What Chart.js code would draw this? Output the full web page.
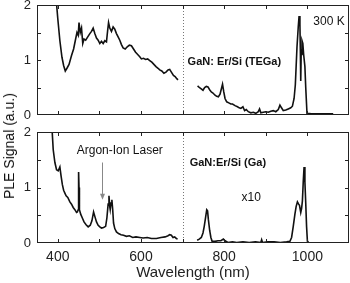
<!DOCTYPE html>
<html>
<head>
<meta charset="utf-8">
<script src="https://cdn.jsdelivr.net/npm/chart.js@4.4.1/dist/chart.umd.min.js"></script>
<style>
  html, body { margin: 0; padding: 0; background: #fff; }
  #wrap { position: relative; width: 350px; height: 283px; overflow: hidden; font-family: "Liberation Sans", Arial, sans-serif; }
  #topChart { position: absolute; left: 0; top: 0; }
  #botChart { position: absolute; left: 0; top: 125px; }
  #yLabel {
    position: absolute; left: 9px; top: 146px; white-space: nowrap;
    font-size: 14px; color: #111;
    transform: translate(-50%, -50%) rotate(-90deg);
  }
</style>
</head>
<body>
<div id="wrap">
  <canvas id="topChart" width="350" height="120"></canvas>
  <canvas id="botChart" width="350" height="158"></canvas>
  <div id="yLabel">PLE Signal (a.u.)</div>
</div>
<script>
/*************************************************
 * 1. Data
 *************************************************/
// top panel: GaN:Er/Si (TEGa), 300 K
const tegaVisWl = [395, 400, 405, 410, 414, 418, 422, 427, 433, 438, 442, 446, 449, 451, 454, 457, 460, 463, 467, 472, 477, 481, 485, 489, 493, 497, 501, 505, 509, 513, 517, 520, 522, 525, 529, 533, 537, 541, 545, 549, 553, 557, 562, 567, 572, 577, 582, 587, 592, 597, 601, 606, 611, 616, 621, 626, 631, 636, 641, 645, 650, 655, 660, 665, 669, 673, 678, 682, 686, 689];
const tegaVisSig = [2.2, 1.75, 1.35, 1.05, 0.9, 0.8, 0.85, 0.92, 1.08, 1.2, 1.35, 1.5, 1.45, 1.68, 1.5, 1.58, 1.3, 1.38, 1.36, 1.42, 1.48, 1.52, 1.58, 1.48, 1.4, 1.36, 1.3, 1.34, 1.3, 1.35, 1.33, 1.55, 1.68, 1.58, 1.52, 1.6, 1.56, 1.48, 1.42, 1.36, 1.28, 1.22, 1.2, 1.24, 1.27, 1.26, 1.2, 1.14, 1.1, 1.06, 1.02, 1.03, 1.01, 1.02, 0.99, 0.96, 0.92, 0.88, 0.85, 0.82, 0.8, 0.76, 0.78, 0.82, 0.83, 0.78, 0.72, 0.7, 0.66, 0.64];
const tegaIrWl = [736, 740, 744, 749, 753, 757, 761, 765, 769, 773, 778, 782, 786, 790, 794, 796, 799, 802, 806, 811, 816, 820, 826, 832, 836, 840, 845, 849, 853, 858, 864, 870, 876, 882, 885, 888, 894, 900, 906, 912, 918, 924, 930, 934, 937, 942, 948, 954, 960, 964, 968, 971, 975, 978, 980, 982, 983, 984, 985, 987, 989, 991, 994, 996, 999, 1010, 1030, 1062];
const tegaIrSig = [0.53, 0.5, 0.48, 0.45, 0.5, 0.52, 0.51, 0.46, 0.42, 0.4, 0.36, 0.34, 0.33, 0.38, 0.5, 0.56, 0.42, 0.3, 0.24, 0.22, 0.2, 0.2, 0.17, 0.15, 0.13, 0.12, 0.15, 0.08, 0.1, 0.06, 0.04, 0.05, 0.03, 0.06, 0.11, 0.04, 0.05, 0.06, 0.05, 0.07, 0.08, 0.06, 0.1, 0.18, 0.14, 0.08, 0.09, 0.11, 0.13, 0.16, 0.3, 0.55, 1.24, 1.6, 1.8, 1.65, 1.2, 0.62, 1.1, 1.35, 1.3, 1.1, 0.88, 0.5, 0.03, 0.02, 0.02, 0.02];

// bottom panel: GaN:Er/Si (Ga)
const gaVisWl = [385, 389, 393, 397, 401, 405, 408, 411, 414, 417, 420, 424, 429, 433, 437, 441, 445, 447, 449, 450, 451, 452, 455, 459, 463, 468, 473, 478, 482, 486, 489, 493, 497, 501, 505, 510, 515, 518, 521, 523, 525, 526, 528, 530, 532, 534, 537, 541, 546, 552, 558, 565, 572, 580, 588, 597, 605, 615, 625, 637, 648, 658, 665, 669, 673, 677, 681, 685, 688];
const gaVisSig = [2.2, 1.68, 1.45, 1.32, 1.3, 1.37, 1.2, 1.05, 0.95, 0.9, 0.85, 0.82, 0.74, 0.7, 0.64, 0.6, 0.55, 0.56, 0.6, 1.28, 1.0, 0.6, 0.52, 0.45, 0.38, 0.33, 0.29, 0.32, 0.4, 0.56, 0.48, 0.38, 0.32, 0.29, 0.27, 0.28, 0.3, 0.45, 0.7, 0.85, 0.65, 0.6, 0.72, 0.78, 0.6, 0.36, 0.26, 0.2, 0.17, 0.15, 0.14, 0.12, 0.13, 0.1, 0.11, 0.1, 0.09, 0.1, 0.08, 0.08, 0.1, 0.11, 0.13, 0.15, 0.14, 0.1, 0.11, 0.08, 0.07];
const gaIrWl = [735, 740, 745, 749, 752, 755, 758, 760, 762, 765, 768, 771, 778, 785, 792, 798, 802, 809, 820, 830, 845, 860, 875, 888, 890, 892, 905, 920, 935, 950, 958, 962, 966, 970, 973, 976, 979, 981, 984, 986, 988, 990, 992, 994, 996, 998, 1000, 1003];
const gaIrSig = [0.05, 0.07, 0.1, 0.18, 0.3, 0.45, 0.6, 0.58, 0.42, 0.23, 0.1, 0.03, 0.03, 0.04, 0.04, 0.07, 0.04, 0.01, 0.02, 0.01, 0.02, 0.01, 0.02, 0.01, 0.06, 0.01, 0.02, 0.02, 0.01, 0.02, 0.03, 0.1, 0.3, 0.52, 0.66, 0.74, 0.7, 0.68, 0.55, 0.62, 0.76, 1.1, 1.37, 1.1, 0.72, 0.3, 0.03, 0.02];

const xTickVals = [400, 500, 600, 700, 800, 900, 1000];
const xTickLabels = [400, 600, 800, 1000];
const yTickVals = [0, 0.5, 1, 1.5, 2];
const yTickLabels = [0, 1, 2];
const splitWl = 700;

const FONT = '"Liberation Sans", Arial, sans-serif';

/*************************************************
 * 2. Helpers
 *************************************************/
function toPoints(wl, sig) {
    return wl.map((w, i) => ({ x: w, y: sig[i] }));
}

function lineSet(wl, sig) {
    return {
        data: toPoints(wl, sig),
        borderColor: "#111",
        borderWidth: 1.6,
        pointRadius: 0,
        tension: 0,
        fill: false
    };
}

// frame, inward ticks and dotted split line
const framePlugin = {
    id: "frame",
    afterDatasetsDraw(chart) {
        const { ctx, chartArea: a, scales: { x, y } } = chart;
        ctx.save();
        ctx.lineWidth = 1;

        // dotted line at 700 nm
        const xs = Math.round(x.getPixelForValue(splitWl)) + 0.5;
        ctx.setLineDash([1, 2]);
        ctx.strokeStyle = "#777";
        ctx.beginPath();
        ctx.moveTo(xs, a.top);
        ctx.lineTo(xs, a.bottom);
        ctx.stroke();
        ctx.setLineDash([]);

        ctx.strokeStyle = "#222";
        ctx.strokeRect(a.left + 0.5, a.top + 0.5, a.right - a.left - 1, a.bottom - a.top - 1);

        const len = 4;
        ctx.beginPath();
        x.ticks.forEach(t => {
            const px = Math.round(x.getPixelForValue(t.value)) + 0.5;
            ctx.moveTo(px, a.bottom); ctx.lineTo(px, a.bottom - len);
            ctx.moveTo(px, a.top); ctx.lineTo(px, a.top + len);
        });
        y.ticks.forEach(t => {
            const py = Math.round(y.getPixelForValue(t.value)) + 0.5;
            if (py <= a.top + 1 || py >= a.bottom - 1) return;
            ctx.moveTo(a.left, py); ctx.lineTo(a.left + len, py);
            ctx.moveTo(a.right, py); ctx.lineTo(a.right - len, py);
        });
        ctx.stroke();
        ctx.restore();
    }
};

function noteText(chart, txt, wl, val, font, align) {
    const { ctx, scales: { x, y } } = chart;
    ctx.save();
    ctx.font = font;
    ctx.fillStyle = "#111";
    ctx.textAlign = align;
    ctx.textBaseline = "middle";
    ctx.fillText(txt, x.getPixelForValue(wl), y.getPixelForValue(val));
    ctx.restore();
}

function baseOptions(showX) {
    return {
        responsive: false,
        devicePixelRatio: 1,
        animation: false,
        layout: { padding: { top: showX ? 7 : 5, right: 1, bottom: 0, left: 0 } },
        plugins: { legend: { display: false }, tooltip: { enabled: false } },
        scales: {
            x: {
                type: "linear",
                min: 350, max: 1100,
                grid: { display: false, drawTicks: false },
                border: { display: false },
                afterBuildTicks: s => { s.ticks = xTickVals.map(v => ({ value: v })); },
                afterFit: s => {
                    s.height = showX ? 40 : 5;
                    s.paddingLeft = 0;
                    s.paddingRight = 0;
                },
                ticks: {
                    display: showX,
                    autoSkip: false,
                    maxRotation: 0,
                    padding: 6,
                    color: "#222",
                    font: { family: FONT, size: 14 },
                    callback: v => xTickLabels.includes(v) ? v : ""
                },
                title: {
                    display: showX,
                    text: "Wavelength (nm)",
                    color: "#222",
                    font: { family: FONT, size: 15 },
                    padding: { top: 0, bottom: 1 }
                }
            },
            y: {
                min: 0, max: 2,
                grid: { display: false, drawTicks: false },
                border: { display: false },
                afterBuildTicks: s => { s.ticks = yTickVals.map(v => ({ value: v })); },
                afterFit: s => {
                    s.width = 37;
                    s.paddingTop = 0;
                    s.paddingBottom = 0;
                },
                ticks: {
                    autoSkip: false,
                    padding: 6,
                    color: "#222",
                    font: { family: FONT, size: 13 },
                    callback: v => yTickLabels.includes(v) ? v : ""
                }
            }
        }
    };
}

/*************************************************
 * 3. Charts
 *************************************************/
new Chart(document.getElementById("topChart"), {
    type: "line",
    data: { datasets: [lineSet(tegaVisWl, tegaVisSig), lineSet(tegaIrWl, tegaIrSig)] },
    options: baseOptions(false),
    plugins: [framePlugin, {
        id: "topNotes",
        afterDraw(chart) {
            noteText(chart, "300 K", 1052, 1.7, `12px ${FONT}`, "center");
            noteText(chart, "GaN: Er/Si (TEGa)", 712, 0.96, `bold 11px ${FONT}`, "left");
        }
    }]
});

new Chart(document.getElementById("botChart"), {
    type: "line",
    data: { datasets: [lineSet(gaVisWl, gaVisSig), lineSet(gaIrWl, gaIrSig)] },
    options: baseOptions(true),
    plugins: [framePlugin, {
        id: "botNotes",
        afterDraw(chart) {
            const { ctx, scales: { x, y } } = chart;
            noteText(chart, "GaN:Er/Si (Ga)", 717, 1.44, `bold 11px ${FONT}`, "left");
            noteText(chart, "x10", 865, 0.81, `12px ${FONT}`, "center");
            noteText(chart, "Argon-Ion Laser", 549, 1.66, `12px ${FONT}`, "center");

            // arrow pointing at the laser line
            const ax = Math.round(x.getPixelForValue(507)) + 0.5;
            const y0 = y.getPixelForValue(1.45);
            const y1 = y.getPixelForValue(0.78);
            ctx.save();
            ctx.strokeStyle = "#888";
            ctx.fillStyle = "#888";
            ctx.lineWidth = 1;
            ctx.beginPath();
            ctx.moveTo(ax, y0);
            ctx.lineTo(ax, y1 - 5);
            ctx.stroke();
            ctx.beginPath();
            ctx.moveTo(ax - 2.5, y1 - 6);
            ctx.lineTo(ax + 2.5, y1 - 6);
            ctx.lineTo(ax, y1);
            ctx.closePath();
            ctx.fill();
            ctx.restore();
        }
    }]
});
</script>
</body>
</html>
